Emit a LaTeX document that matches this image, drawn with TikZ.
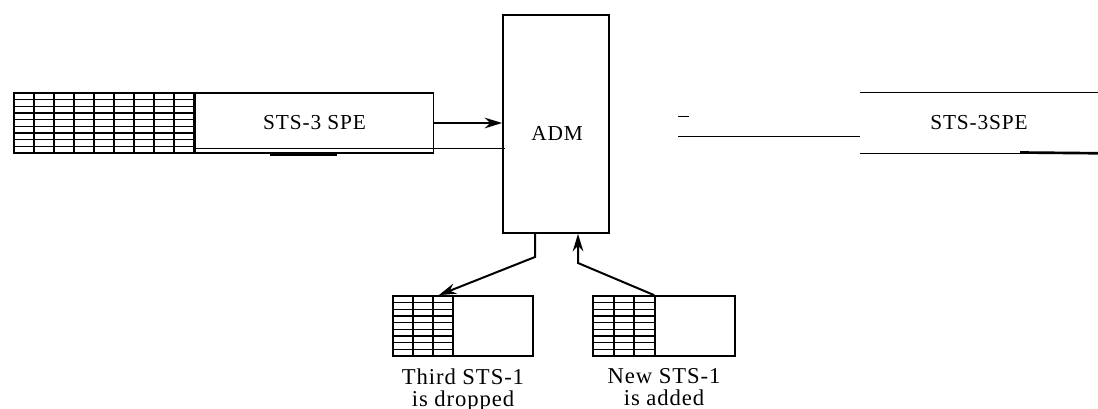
\documentclass[tikz,border=0pt]{standalone}
\usepackage{fontspec}
\setmainfont{Liberation Serif}
\newfontfamily\spaced[LetterSpace=4]{Liberation Serif}
\usetikzlibrary{arrows.meta,positioning}
\tikzset{
  box/.style={draw, line width=1.3pt, inner sep=0pt},
  cell/.style={line width=1.1pt},
  col/.style={line width=1.6pt},
  flow/.style={-{Stealth[length=4.6mm,width=2.8mm]}, line width=1.5pt},
  lbl/.style={font=\fontsize{16}{17}\selectfont\spaced, align=center},
  note/.style={font=\fontsize{17}{16.5}\selectfont\spaced, align=center, inner sep=0pt}
}

\begin{document}
\begin{tikzpicture}[x=0.75pt,y=-0.75pt]
  \useasboundingbox (0,0) rectangle (1098,409);

  % incoming STS-3 frame
  \node[box, minimum width=135pt, minimum height=45pt] (oh) at (104,123) {};
  \foreach \c in {1,...,8} \draw[col] ({14+20*\c},93) -- ({14+20*\c},153);
  \foreach \r in {1,...,8} \draw[cell] (14,{93+\r*60/9}) -- (194,{93+\r*60/9});
  \node[box, lbl, line width=1pt, minimum width=178.5pt, minimum height=45pt, right=0pt of oh] (spe) {STS-3 SPE};
  \draw ([yshift=3.75pt]spe.south west) -- ([yshift=3.75pt]spe.south west -| 505,0);
  \draw[line width=2pt] (270,154.5) -- (337,154.5);

  % multiplexer
  \node[box, minimum width=79.5pt, minimum height=163.5pt] (adm) at (556,124) {};
  \node[lbl] (admtext) at (557,133) {ADM};
  \draw[flow] (spe.east) -- (spe.east -| adm.west);

  % outgoing STS-3
  \node[lbl, minimum width=178.5pt, minimum height=45pt] (out) at (979,123) {STS-3SPE};
  \draw (out.north west) -- (out.north east);
  \draw (out.south west) -- (out.south east) -- ++(0,-5);
  \draw[line width=2pt] (1020,152.5) -- (out.south east);
  \coordinate (gap) at (678,136);
  \draw (gap) -- (gap -| out.west);
  \draw (678,116) -- (689,116);

  % dropped STS-1
  \node[box, minimum width=105pt, minimum height=45pt] (drop) at (463,326) {};
  \foreach \c in {1,2,3} \draw[col] ({393+20*\c},296) -- ({393+20*\c},356);
  \foreach \r in {1,...,8} \draw[cell] (393,{296+\r*60/9}) -- (453,{296+\r*60/9});
  \node[note, below=8.5pt of drop] (droptext) {Third STS-1\\is dropped};

  % added STS-1
  \node[box, minimum width=106.5pt, minimum height=45pt] (add) at (664,326) {};
  \foreach \c in {1,2,3} \draw[col] ({593+20.7*\c},296) -- ({593+20.7*\c},356);
  \foreach \r in {1,...,8} \draw[cell] (593,{296+\r*60/9}) -- (655,{296+\r*60/9});
  \node[note, below=8.5pt of add] (addtext) {New STS-1\\is added};

  \coordinate (dropbend) at (535,257);
  \coordinate (addbend) at (578,263);
  \draw[flow] (adm.south -| dropbend) -- (dropbend) -- ([xshift=35pt]drop.north west);
  \draw[flow] ([xshift=46.5pt]add.north west) -- (addbend) -- (addbend |- adm.south);
\end{tikzpicture}
\end{document}
